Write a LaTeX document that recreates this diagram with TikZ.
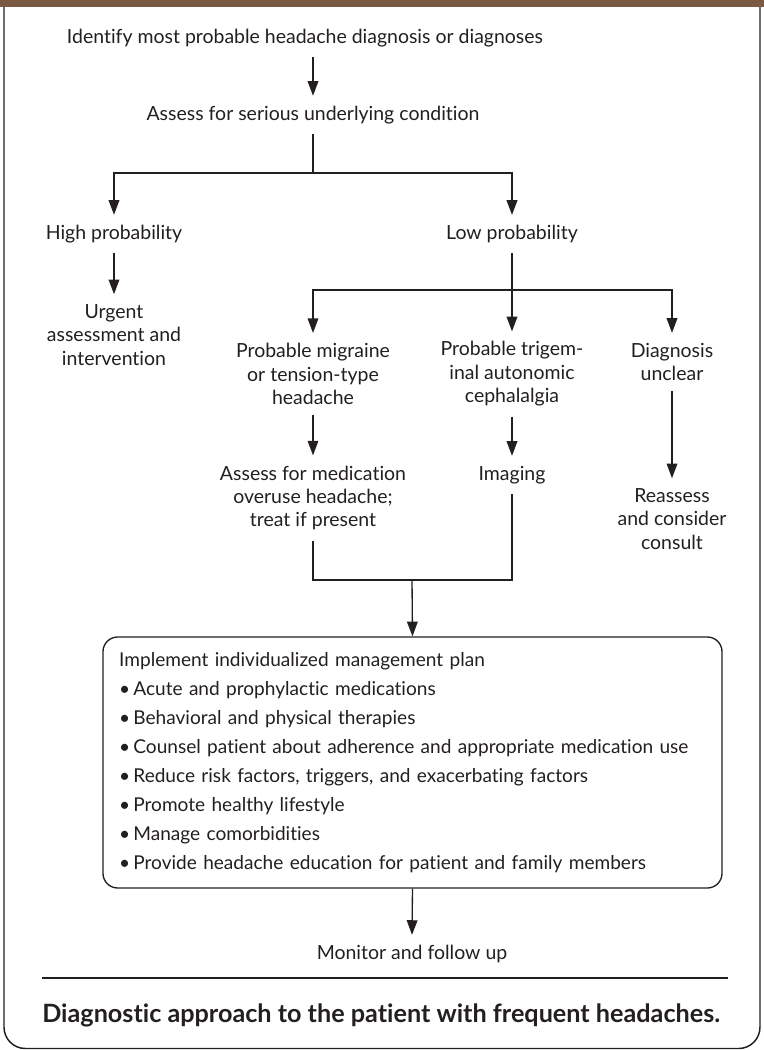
\documentclass[tikz,border=0pt]{standalone}
\usepackage{fontspec}
\setmainfont{Lato}[Ligatures={NoCommon}]
\usetikzlibrary{arrows.meta}
\definecolor{barbrown}{RGB}{122,90,67}
\definecolor{ink}{RGB}{35,31,32}
\begin{document}
\begin{tikzpicture}[x=0.75pt,y=-0.75pt,
  every node/.style={font=\fontsize{14.6}{17.6}\selectfont, text=ink},
  lbl/.style={align=center, inner xsep=0pt, inner ysep=7.5pt},
  conn/.style={draw=ink, line width=1pt},
  arr/.style={conn, -{Triangle[length=11pt,width=8pt]}},
  framestyle/.style={draw=ink, line width=1.1pt, rounded corners=16pt},
  planbox/.style={draw=ink, line width=1pt, rounded corners=11pt,
    minimum width=464.25pt, minimum height=188.25pt, text width=440pt,
    align=left, inner xsep=12pt, font=\fontsize{14.3}{21.75}\selectfont},
  titlestyle/.style={font=\fontsize{18.9}{22}\bfseries\selectfont, anchor=west, inner sep=0pt},
]
\useasboundingbox (0,0) rectangle (764,1050);
\fill[barbrown] (0,0) rectangle (764,7);
\draw[framestyle] (4,7) -- (4,1048.5) -- (760,1048.5) -- (760,7);

\node[lbl] (identify) at (305,38) {Identify most probable headache diagnosis or diagnoses};
\node[lbl] (assess) at (313,115) {Assess for serious underlying condition};
\node[lbl] (high) at (114,234) {High probability};
\node[lbl] (low) at (512,234) {Low probability};
\node[lbl] (urgent) at (114,335) {Urgent\\assessment and\\intervention};
\node[lbl] (migraine) at (313,374) {Probable migraine\\or tension-type\\headache};
\node[lbl] (tac) at (512,374) {Probable trigem-\\inal autonomic\\cephalalgia};
\node[lbl] (unclear) at (672,362) {Diagnosis\\unclear};
\node[lbl] (medover) at (313,498) {Assess for medication\\overuse headache;\\treat if present};
\node[lbl] (imaging) at (512,475) {Imaging};
\node[lbl] (reassess) at (672,519) {Reassess\\and consider\\consult};
\node[planbox] (plan) at (412.5,762.5) {Implement individualized management plan\\
\textbullet\,Acute and prophylactic medications\\
\textbullet\,Behavioral and physical therapies\\
\textbullet\,Counsel patient about adherence and appropriate medication use\\
\textbullet\,Reduce risk factors, triggers, and exacerbating factors\\
\textbullet\,Promote healthy lifestyle\\
\textbullet\,Manage comorbidities\\
\textbullet\,Provide headache education for patient and family members};
\node[lbl] (monitor) at (412,954) {Monitor and follow up};
\node[titlestyle] (title) at (42,1015) {Diagnostic approach to the patient with frequent headaches.};

\coordinate (split1) at (313,173);
\coordinate (split2) at (512,290);
\coordinate (join) at (412,580);

\draw[arr] (identify.south -| assess.north) -- (assess.north);
\draw[conn] (assess.south) -- (split1);
\draw[arr] (split1) -| (high.north);
\draw[arr] (split1) -| (low.north);
\draw[arr] (high.south) -- (urgent.north);
\draw[arr] (low.south) -- (tac.north);
\draw[arr] (split2) -| (migraine.north);
\draw[arr] (split2) -| (unclear.north);
\draw[arr] (migraine.south) -- (medover.north);
\draw[arr] (tac.south) -- (imaging.north);
\draw[arr] (unclear.south) -- (reassess.north);
\draw[conn] (medover.south) |- (join);
\draw[conn] (imaging.south) |- (join);
\draw[arr] (join) -- (plan.north);
\draw[arr] (plan.south) -- (monitor.north);
\draw[ink, line width=2pt] (42,978) -- (728,978);
\end{tikzpicture}
\end{document}
